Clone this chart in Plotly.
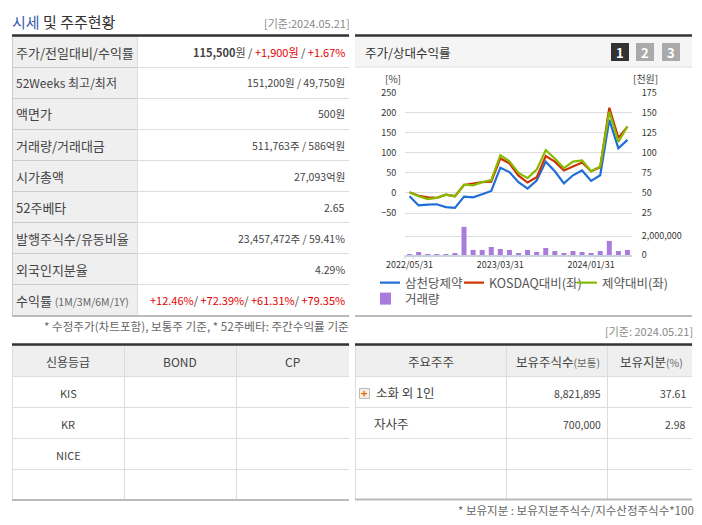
import plotly.graph_objects as go

W, H = 702, 525

months = ["2022/05/31", "2022/06/30", "2022/07/31", "2022/08/31", "2022/09/30", "2022/10/31", "2022/11/30",
          "2022/12/31", "2023/01/31", "2023/02/28", "2023/03/31", "2023/04/30", "2023/05/31", "2023/06/30",
          "2023/07/31", "2023/08/31", "2023/09/30", "2023/10/31", "2023/11/30", "2023/12/31", "2024/01/31",
          "2024/02/29", "2024/03/31", "2024/04/30", "2024/05/21"]
samchundang = [-8, -31, -29, -28, -35, -37, -9, -11, -3, 5, 63, 52, 27, 11, 31, 78, 54, 24, 44, 56, 30, 44, 182, 111, 132]
kosdaq = [2, -7, -11, -12, -4, -8, 20, 23, 27, 28, 86, 74, 43, 26, 39, 92, 78, 56, 66, 76, 54, 64, 212, 137, 165]
pharma = [2, -8, -15, -12, -4, -8, 21, 19, 27, 32, 94, 79, 50, 37, 58, 107, 86, 62, 78, 81, 54, 66, 202, 127, 166]
volume = [70000, 320000, 70000, 70000, 70000, 210000, 3000000, 540000, 540000, 860000, 640000, 540000, 210000,
          540000, 320000, 750000, 430000, 210000, 430000, 320000, 210000, 430000, 1500000, 430000, 540000]


def red(text):
    return f"<span style='color:#e60000'>{text}</span>"


def small(text):
    return f"<span style='font-size:10.5px;color:#666'>{text}</span>"


price_labels = ["주가/전일대비/수익률", "52Weeks 최고/최저", "액면가", "거래량/거래대금", "시가총액", "52주베타",
                "발행주식수/유동비율", "외국인지분율", "수익률 " + small("(1M/3M/6M/1Y)")]
price_values = ["<b>115,500</b>원 / " + red("+1,900원") + " / " + red("+1.67%"),
                "151,200원 / 49,750원", "500원", "511,763주 / 586억원", "27,093억원", "2.65",
                "23,457,472주 / 59.41%", "4.29%",
                red("+12.46%") + "/ " + red("+72.39%") + "/ " + red("+61.31%") + "/ " + red("+79.35%")]
credit_headers = ["신용등급", "BOND", "CP"]
credit_agencies = ["KIS", "KR", "NICE", ""]
holder_headers = ["주요주주", "보유주식수" + small("(보통)"), "보유지분" + small("(%)")]
holders = ["소화 외 1인", "자사주", "", ""]
holder_shares = ["8,821,895", "700,000", "", ""]
holder_ratio = ["37.61", "2.98", "", ""]

KR = "Noto Sans CJK KR"
DARK = "#333333"
TEXT = "#444444"
GRID = "#dddddd"
GREY = "#efefef"


def px_x(a, b):
    return [a / W, b / W]


def px_y(top, bottom):
    return [1 - bottom / H, 1 - top / H]


fig = go.Figure()

# tables draw the cells, the text goes on as annotations (table text can't mix colours or centre vertically)
fig.add_trace(go.Table(
    domain=dict(x=px_x(12, 349), y=px_y(36, 316)),
    columnwidth=[125.5, 211.5],
    header=dict(values=["", ""], height=31, fill_color=[GREY, "white"], line=dict(color=["#cccccc", GRID], width=1)),
    cells=dict(values=[[""] * 8, [""] * 8], height=31, fill_color=[[GREY] * 8, ["white"] * 8],
               line=dict(color=["#cccccc", GRID], width=1))))

fig.add_trace(go.Table(
    domain=dict(x=px_x(12, 349), y=px_y(345, 500)),
    columnwidth=[112, 112, 113],
    header=dict(values=["", "", ""], height=31, fill_color=GREY, line=dict(color=GRID, width=1)),
    cells=dict(values=[[""] * 4, [""] * 4, [""] * 4], height=31, fill_color="white",
               line=dict(color=GRID, width=1))))

fig.add_trace(go.Table(
    domain=dict(x=px_x(355, 692), y=px_y(345, 500)),
    columnwidth=[151, 101, 85],
    header=dict(values=["", "", ""], height=31, fill_color=GREY, line=dict(color=GRID, width=1)),
    cells=dict(values=[[""] * 4, [""] * 4, [""] * 4], height=31, fill_color="white",
               line=dict(color=GRID, width=1))))

# chart
for name, vals, col, lg in [("삼천당제약", samchundang, "#1f6fd8", "legend"),
                            ("KOSDAQ대비(좌)", kosdaq, "#cc3300", "legend3"),
                            ("제약대비(좌)", pharma, "#88bb00", "legend4")]:
    fig.add_trace(go.Scatter(x=months, y=vals, name=name, mode="lines", line=dict(color=col, width=2.2),
                             xaxis="x", yaxis="y", legend=lg))
fig.add_trace(go.Bar(x=months, y=volume, name="거래량", marker=dict(color="#a87bdc", line_width=0), width=0.55,
                     xaxis="x2", yaxis="y3", legend="legend2"))
# invisible trace keeps the right-hand axis (천원) alive
fig.add_trace(go.Scatter(x=months, y=[50 + v / 2 for v in samchundang], mode="lines", line_width=0,
                         showlegend=False, hoverinfo="skip", opacity=0, xaxis="x", yaxis="y2"))

tick_font = dict(family=KR, size=9, color="#333333")
legend_font = dict(family=KR, size=12.5, color="#555555")


def legend_at(x, y):
    return dict(orientation="h", x=x / W, y=1 - y / H, xanchor="left", yanchor="top", font=legend_font,
                itemwidth=30, indentation=-15, bgcolor="rgba(0,0,0,0)")


fig.update_layout(
    width=W, height=H, margin=dict(l=0, r=0, t=0, b=0, autoexpand=False), autosize=False,
    paper_bgcolor="white", plot_bgcolor="white", showlegend=True,
    xaxis=dict(domain=px_x(405, 632), type="category", categoryorder="array", categoryarray=months,
               range=[-0.5, 24.5], showticklabels=False, ticks="", showgrid=False, zeroline=False,
               showline=False, anchor="y"),
    yaxis=dict(domain=px_y(92.5, 216.7), range=[-59, 250], tickvals=[-50, 0, 50, 100, 150, 200, 250],
               tickfont=tick_font, gridcolor=GRID, gridwidth=1, zeroline=False, showline=False, ticks="outside",
               ticklen=6, tickcolor="rgba(0,0,0,0)", anchor="x"),
    yaxis2=dict(domain=px_y(92.5, 216.7), range=[20.5, 175], tickvals=[25, 50, 75, 100, 125, 150, 175],
                overlaying="y", side="right", tickfont=tick_font, showgrid=False, zeroline=False,
                showline=False, ticks="outside", ticklen=7, tickcolor="rgba(0,0,0,0)", anchor="x"),
    xaxis2=dict(domain=px_x(405, 632), type="category", categoryorder="array", categoryarray=months,
                range=[-0.5, 24.5], tickvals=[months[0], months[10], months[20]], tickfont=tick_font,
                ticks="", showgrid=False, zeroline=False, showline=True, linecolor="#c8d3de", linewidth=2,
                tickangle=0, anchor="y3"),
    yaxis3=dict(domain=px_y(225, 255), range=[0, 3200000], tickvals=[0, 2000000], ticktext=["0", "2,000,000"],
                side="right", tickfont=tick_font, gridcolor=GRID, zeroline=False, showline=False, ticks="outside",
                ticklen=7, tickcolor="rgba(0,0,0,0)", anchor="x2"),
    legend=legend_at(380, 268),
    legend2=legend_at(380, 284),
    legend3=legend_at(464, 268),
    legend4=legend_at(577, 268),
)

shapes = []
# white strips hide the outer cell borders of the tables
for x0, x1, y0, y1 in [(10.5, 12, 37, 315), (349, 350.5, 37, 315), (10.5, 12, 346, 499), (349, 350.5, 346, 499),
                       (353.5, 355, 346, 499), (692, 693.5, 346, 499)]:
    shapes.append(dict(type="rect", xref="paper", yref="paper", x0=x0 / W, x1=x1 / W, y0=1 - y1 / H, y1=1 - y0 / H,
                       fillcolor="white", line_width=0))
# heavy rules above each block
for x0, x1, y in [(12, 349, 35.5), (355, 692, 35.5), (12, 349, 344.5), (355, 692, 344.5)]:
    shapes.append(dict(type="line", xref="paper", yref="paper", x0=x0 / W, x1=x1 / W, y0=1 - y / H, y1=1 - y / H,
                       line=dict(color=DARK, width=2.5)))
# grey rules below each block
for x0, x1, y in [(12, 349, 316), (355, 692, 316), (12, 349, 500), (355, 692, 499.5)]:
    shapes.append(dict(type="line", xref="paper", yref="paper", x0=x0 / W, x1=x1 / W, y0=1 - y / H, y1=1 - y / H,
                       line=dict(color="#bbbbbb", width=2)))
# chart header band
shapes.append(dict(type="rect", xref="paper", yref="paper", x0=355 / W, x1=692 / W, y0=1 - 67 / H, y1=1 - 37 / H,
                   fillcolor="#f5f5f5", line_width=0, layer="below"))
shapes.append(dict(type="line", xref="paper", yref="paper", x0=355 / W, x1=692 / W, y0=1 - 67 / H, y1=1 - 67 / H,
                   line=dict(color="#dddddd", width=1)))
# period buttons
for x0, col in [(611, "#333333"), (636, "#aaaaaa"), (662, "#aaaaaa")]:
    shapes.append(dict(type="rect", xref="paper", yref="paper", x0=x0 / W, x1=(x0 + 18) / W, y0=1 - 61 / H,
                       y1=1 - 43 / H, fillcolor=col, line_width=0))
# expand icon next to the first shareholder
shapes.append(dict(type="rect", xref="paper", yref="paper", x0=359.5 / W, x1=369.5 / W, y0=1 - 398.5 / H,
                   y1=1 - 388.5 / H, fillcolor="#f4f0e6", line=dict(color="#bbbbbb", width=1)))
# axis ticks under the volume panel
for x in [405, 413.3, 504, 595]:
    shapes.append(dict(type="line", xref="paper", yref="paper", x0=x / W, x1=x / W, y0=1 - 255 / H, y1=1 - 259 / H,
                       line=dict(color="#c8d3de", width=1)))
fig.update_layout(shapes=shapes)


def note(text, x, y, size=11, color=TEXT, anchor="left"):
    # annotations keep about 2px of padding around the text
    x = x + {"left": -1, "right": 2, "center": 0}[anchor]
    fig.add_annotation(text=text, xref="paper", yref="paper", x=x / W, y=1 - y / H, xanchor=anchor, yanchor="middle",
                       showarrow=False, borderpad=0, font=dict(family=KR, size=size, color=color))


# table text
for i, (label, value) in enumerate(zip(price_labels, price_values)):
    note(label, 16, 52 + i * 31, size=12 if i == 1 else 13)
    note(value, 344, 52 + i * 31, size=11 if i in (0, 8) else 10.5, anchor="right")
for col_x, head in zip([68, 180, 292.5], credit_headers):
    note(head, col_x, 361, size=12, anchor="center")
for i, name in enumerate(credit_agencies):
    if name:
        note(name, 68, 392.5 + i * 31, size=11, anchor="center")
for col_x, head in zip([431, 558, 651], holder_headers):
    note(head, col_x, 361, size=12.5, anchor="center")
for i in range(2):
    note(holders[i], 376 - 2 * i, 392.5 + i * 31, size=12.5)
    note(holder_shares[i], 600, 393.5 + i * 31, size=10.5, anchor="right")
    note(holder_ratio[i], 685, 393.5 + i * 31, size=10.5, anchor="right")

note("<span style='color:#3a5bb0'>시세</span> 및 주주현황", 12, 21, size=15, color="#333333")
note("[기준:2024.05.21]", 349, 23, size=11, color="#888888", anchor="right")
note("* 수정주가(차트포함), 보통주 기준, * 52주베타: 주간수익률 기준", 348, 326, size=11.6, color="#666666", anchor="right")
note("[기준: 2024.05.21]", 692, 331, size=11, color="#888888", anchor="right")
note("* 보유지분 : 보유지분주식수/지수산정주식수*100", 693, 510, size=11.5, color="#666666", anchor="right")
note("주가/상대수익률", 365, 52, size=12.5, color="#333333")
note("<b>1</b>", 620, 52, size=13, color="white", anchor="center")
note("<b>2</b>", 645, 52, size=13, color="white", anchor="center")
note("<b>3</b>", 671, 52, size=13, color="white", anchor="center")
note("<b>+</b>", 364.5, 393, size=11, color="#f06000", anchor="center")
note("[%]", 385, 79, size=10, color=TEXT)
note("[천원]", 633, 79, size=10, color=TEXT)

fig.write_html("out.html", config={"displayModeBar": False}, post_script="document.body.style.margin='0';")
